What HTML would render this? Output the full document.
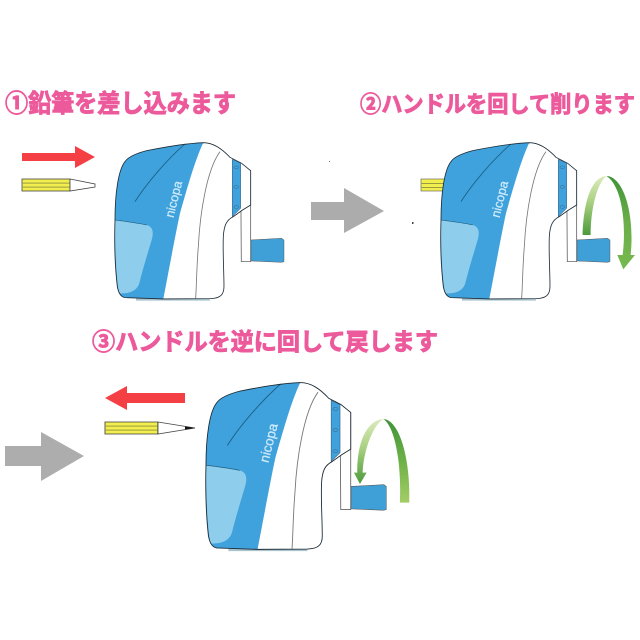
<!DOCTYPE html>
<html lang="ja">
<head>
<meta charset="utf-8">
<title>nicopa</title>
<style>
html,body{margin:0;padding:0;background:#fff;width:640px;height:640px;overflow:hidden}
svg{display:block}
.t{font-family:"Liberation Sans","Noto Sans CJK JP",sans-serif;font-weight:700;fill:#ec5a9c;stroke:#ec5a9c;stroke-width:.9}
.n{font-family:"Liberation Sans",sans-serif;font-size:38px;fill:#cdeafa;stroke:#cdeafa;stroke-width:.8}
</style>
</head>
<body>
<svg width="640" height="640" viewBox="0 0 640 640" xmlns="http://www.w3.org/2000/svg">
<defs>
<linearGradient id="la" x1="0" y1="0" x2="0" y2="1">
<stop offset="0" stop-color="#dcebbd"/><stop offset=".45" stop-color="#a8d080"/><stop offset="1" stop-color="#4c9a3c"/>
</linearGradient>
<linearGradient id="ra" x1="0" y1="0" x2="0" y2="1">
<stop offset="0" stop-color="#3f9438"/><stop offset=".5" stop-color="#6cae48"/><stop offset="1" stop-color="#76b94e"/>
</linearGradient>
<linearGradient id="rb" x1="0" y1="0" x2="0" y2="1">
<stop offset="0" stop-color="#3f9438"/><stop offset=".55" stop-color="#73b34a"/><stop offset="1" stop-color="#a3cc66"/>
</linearGradient>
<g id="sh">
<path d="M753 480L845 475L852 480L852 545L845 547L753 543Z" fill="#3fa0d8" stroke="#555" stroke-width="1.5"/>
<path d="M722 255L752 272L752 545L724 545Z" fill="#fff" stroke="#666" stroke-width="2.5"/>
<path d="M408 655L630 655L630 662L408 662Z" fill="#a9c4cf"/>
<path d="M610 188C640 188 665 205 690 232L700 238L725 250L752 272L752 375L725 392L700 410C680 420 672 435 670 470C668 520 672 570 672 620C672 645 660 655 630 656L490 657L375 653C360 650 355 635 352 620C345 560 343 480 345 420C345 340 355 270 375 245C385 230 410 220 440 212C500 200 560 190 610 188Z" fill="#fff"/>
<path d="M610 188C585 240 560 330 540 400C525 470 505 580 490 657L375 653C360 650 355 635 352 620C345 560 343 480 345 420C345 340 355 270 375 245C385 230 410 220 440 212C500 200 560 190 610 188Z" fill="#3fa2dc"/>
<path d="M345 420C380 425 420 430 440 435C458 440 462 455 455 480C440 530 425 580 418 610C410 635 385 642 358 640C350 610 344 500 345 420Z" fill="#8fcdec"/>
<path d="M345 420C380 425 420 430 440 435" fill="none" stroke="#1f5f80" stroke-width="2"/>
<path d="M555 192C500 240 440 310 405 365" fill="none" stroke="#1b5f86" stroke-width="2.5"/>
<path d="M660 215C620 270 600 400 595 500C590 560 590 610 587 655" fill="none" stroke="#777" stroke-width="2.5"/>
<path d="M697 238L722 250L722 385L697 410Z" fill="#3fa2dc" stroke="#357" stroke-width="1.5"/>
<ellipse cx="709" cy="262" rx="7" ry="4" fill="none" stroke="#357" stroke-width="1.2"/>
<ellipse cx="709" cy="321" rx="7" ry="4" fill="none" stroke="#357" stroke-width="1.2"/>
<ellipse cx="709" cy="381" rx="7" ry="4" fill="none" stroke="#357" stroke-width="1.2"/>
<path d="M610 188C640 188 665 205 690 232L725 250L752 272L752 375L725 392L700 410C680 420 672 435 670 470C668 520 672 570 672 620C672 645 660 655 630 656L490 657L375 653C360 650 355 635 352 620C345 560 343 480 345 420C345 340 355 270 375 245C385 230 410 220 440 212C500 200 560 190 610 188Z" fill="none" stroke="#1d2b36" stroke-width="2.5"/>
<text class="n" transform="translate(520 415) rotate(-76)">nicopa</text>
</g>
<g id="pb">
<rect x="0" y="0" width="48" height="12" fill="#f2ee4e" stroke="#444" stroke-width=".8"/>
<rect x="0" y="3.6" width="48" height="1" fill="#9a9a40"/>
<rect x="0" y="7.6" width="48" height="1" fill="#9a9a40"/>
</g>
</defs>

<text class="t" x="5" y="112" font-size="25" textLength="231" lengthAdjust="spacingAndGlyphs">①鉛筆を差し込みます</text>
<text class="t" x="360" y="112" font-size="23" textLength="275" lengthAdjust="spacingAndGlyphs">②ハンドルを回して削ります</text>
<text class="t" x="92" y="350" font-size="24" textLength="346" lengthAdjust="spacingAndGlyphs">③ハンドルを逆に回して戻します</text>

<!-- step 1 -->
<path d="M22 153L75 153L75 146L95 157L75 168L75 161L22 161Z" fill="#f43f45"/>
<use href="#pb" x="22" y="179"/>
<path d="M70 179L95 184L95 187L70 191Z" fill="#fff" stroke="#444" stroke-width=".8"/>
<g transform="scale(.3333) translate(0 240)"><use href="#sh"/></g>

<path d="M311 202L344 202L344 188L384 211L344 233L344 220L311 220Z" fill="#acacac"/>
<rect x="329" y="161" width="1" height="1" fill="#777"/>
<rect x="412" y="222" width="1.5" height="2" fill="#444"/>

<!-- step 2 -->
<rect x="421" y="179" width="26" height="12" fill="#f2ee4e" stroke="#555" stroke-width=".6"/>
<rect x="421" y="183" width="26" height="1" fill="#9a9a40"/>
<rect x="421" y="187" width="26" height="1" fill="#9a9a40"/>
<g transform="translate(326 0) scale(.3333) translate(0 240)"><use href="#sh"/></g>
<g transform="translate(320 80) scale(.3333)">
<path d="M788 465C790 380 810 290 860 288C830 310 812 390 812 465Z" fill="url(#la)"/>
<path d="M860 288C910 290 945 400 932 525L945 525L910 568L892 525L908 525C920 430 905 320 862 290Z" fill="url(#ra)"/>
</g>

<!-- step 3 -->
<path d="M5 446L41 446L41 432L84 456L41 481L41 466L5 466Z" fill="#adadad"/>
<path d="M185 393L127 393L127 386L105 398L127 410L127 403L185 403Z" fill="#f43f45"/>
<g transform="translate(105 422) scale(1.1 1)"><use href="#pb"/></g>
<path d="M158 422L195 428L158 434Z" fill="#fff" stroke="#444" stroke-width=".8"/>
<path d="M185 426.5L195 428L185 429.5Z" fill="#111"/>
<g transform="translate(83.3 230.4) scale(.3556) translate(0 240)"><use href="#sh"/></g>
<g transform="translate(0 320) scale(.3333)">
<path d="M1150 297C1100 300 1070 370 1072 458L1062 458L1080 492L1100 458L1088 458C1090 400 1115 320 1150 297Z" fill="url(#la)"/>
<path d="M1150 297C1200 300 1232 420 1228 548L1200 548C1205 430 1185 320 1150 297Z" fill="url(#rb)"/>
</g>
</svg>
</body>
</html>
